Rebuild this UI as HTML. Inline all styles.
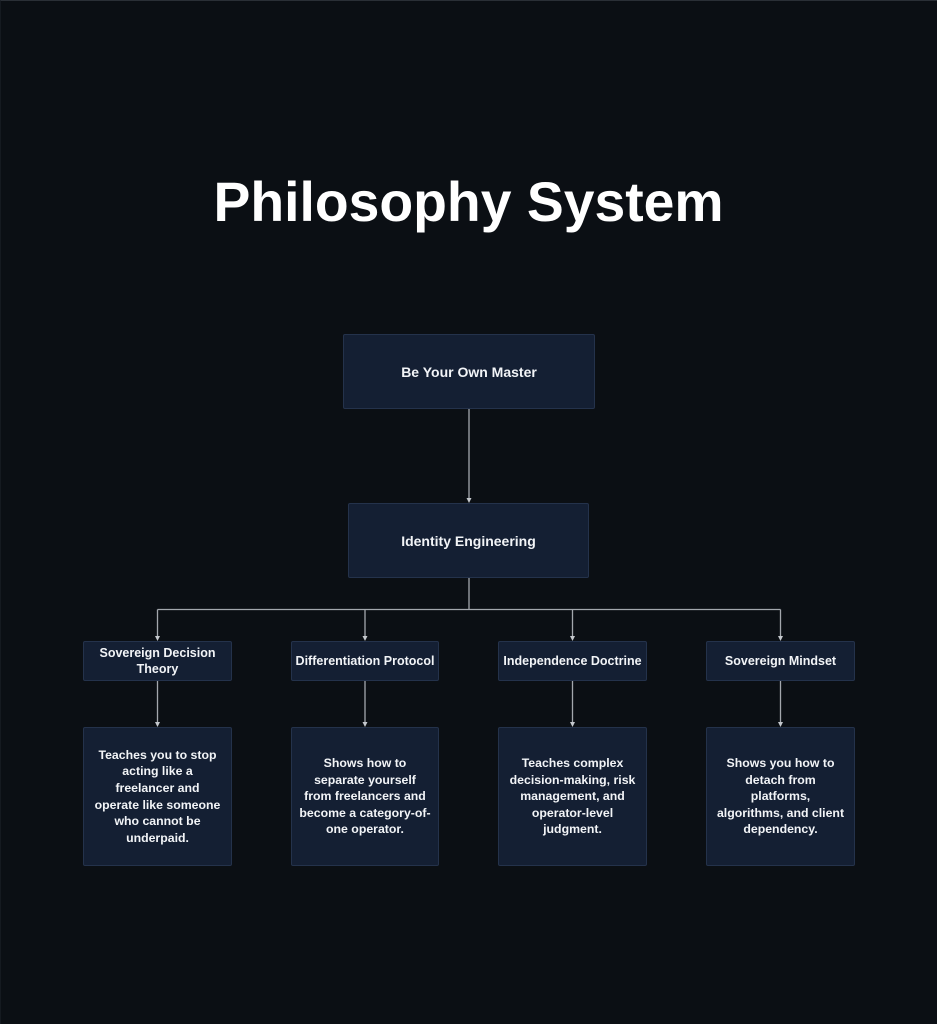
<!DOCTYPE html>
<html>
<head>
<meta charset="utf-8">
<style>
  html,body{margin:0;padding:0;}
  body{width:937px;height:1024px;background:#0b0f14;position:relative;overflow:hidden;font-family:"Liberation Sans","DejaVu Sans",sans-serif;}
  .frame{position:absolute;left:0;top:0;width:937px;height:1024px;box-sizing:border-box;border-top:1px solid #2a2f36;border-left:1px solid #151a20;}
  .title{position:absolute;left:0;top:175px;width:937px;text-align:center;color:#ffffff;font-weight:bold;font-size:55.3px;line-height:55px;white-space:nowrap;}
  .node{position:absolute;box-sizing:border-box;background:#141f33;border:1px solid #24324b;border-radius:2px;color:#f2f4f7;font-weight:bold;display:flex;align-items:center;justify-content:center;text-align:center;white-space:nowrap;}
  .n1{font-size:14px;}
  .n3{font-size:12.5px;line-height:16px;}
  .n4{font-size:12.3px;line-height:16.6px;}
  svg{position:absolute;left:0;top:0;}
</style>
</head>
<body>
<div class="frame"></div>
<div class="title">Philosophy System</div>

<svg width="937" height="1024" viewBox="0 0 937 1024">
  <g stroke="#a3a7ad" stroke-width="1.3" fill="none">
    <line x1="469" y1="409" x2="469" y2="500"/>
    <line x1="469" y1="578" x2="469" y2="609.5"/>
    <line x1="157.5" y1="609.5" x2="780.5" y2="609.5"/>
    <line x1="157.5" y1="609.5" x2="157.5" y2="638"/>
    <line x1="365" y1="609.5" x2="365" y2="638"/>
    <line x1="572.5" y1="609.5" x2="572.5" y2="638"/>
    <line x1="780.5" y1="609.5" x2="780.5" y2="638"/>
    <line x1="157.5" y1="681" x2="157.5" y2="724"/>
    <line x1="365" y1="681" x2="365" y2="724"/>
    <line x1="572.5" y1="681" x2="572.5" y2="724"/>
    <line x1="780.5" y1="681" x2="780.5" y2="724"/>
  </g>
  <g fill="#c4c8cd">
    <polygon points="466.5,498 471.5,498 469,503"/>
    <polygon points="155,636 160,636 157.5,641"/>
    <polygon points="362.5,636 367.5,636 365,641"/>
    <polygon points="570,636 575,636 572.5,641"/>
    <polygon points="778,636 783,636 780.5,641"/>
    <polygon points="155,722 160,722 157.5,727"/>
    <polygon points="362.5,722 367.5,722 365,727"/>
    <polygon points="570,722 575,722 572.5,727"/>
    <polygon points="778,722 783,722 780.5,727"/>
  </g>
</svg>

<div class="node n1" style="left:343px;top:334px;width:252px;height:75px;">Be Your Own Master</div>
<div class="node n1" style="left:348px;top:503px;width:241px;height:75px;">Identity Engineering</div>

<div class="node n3" style="left:83px;top:641px;width:149px;height:40px;">Sovereign Decision<br>Theory</div>
<div class="node n3" style="left:291px;top:641px;width:148px;height:40px;">Differentiation Protocol</div>
<div class="node n3" style="left:498px;top:641px;width:149px;height:40px;">Independence Doctrine</div>
<div class="node n3" style="left:706px;top:641px;width:149px;height:40px;">Sovereign Mindset</div>

<div class="node n4" style="left:83px;top:727px;width:149px;height:139px;">Teaches you to stop<br>acting like a<br>freelancer and<br>operate like someone<br>who cannot be<br>underpaid.</div>
<div class="node n4" style="left:291px;top:727px;width:148px;height:139px;">Shows how to<br>separate yourself<br>from freelancers and<br>become a category-of-<br>one operator.</div>
<div class="node n4" style="left:498px;top:727px;width:149px;height:139px;">Teaches complex<br>decision-making, risk<br>management, and<br>operator-level<br>judgment.</div>
<div class="node n4" style="left:706px;top:727px;width:149px;height:139px;">Shows you how to<br>detach from<br>platforms,<br>algorithms, and client<br>dependency.</div>
</body>
</html>
